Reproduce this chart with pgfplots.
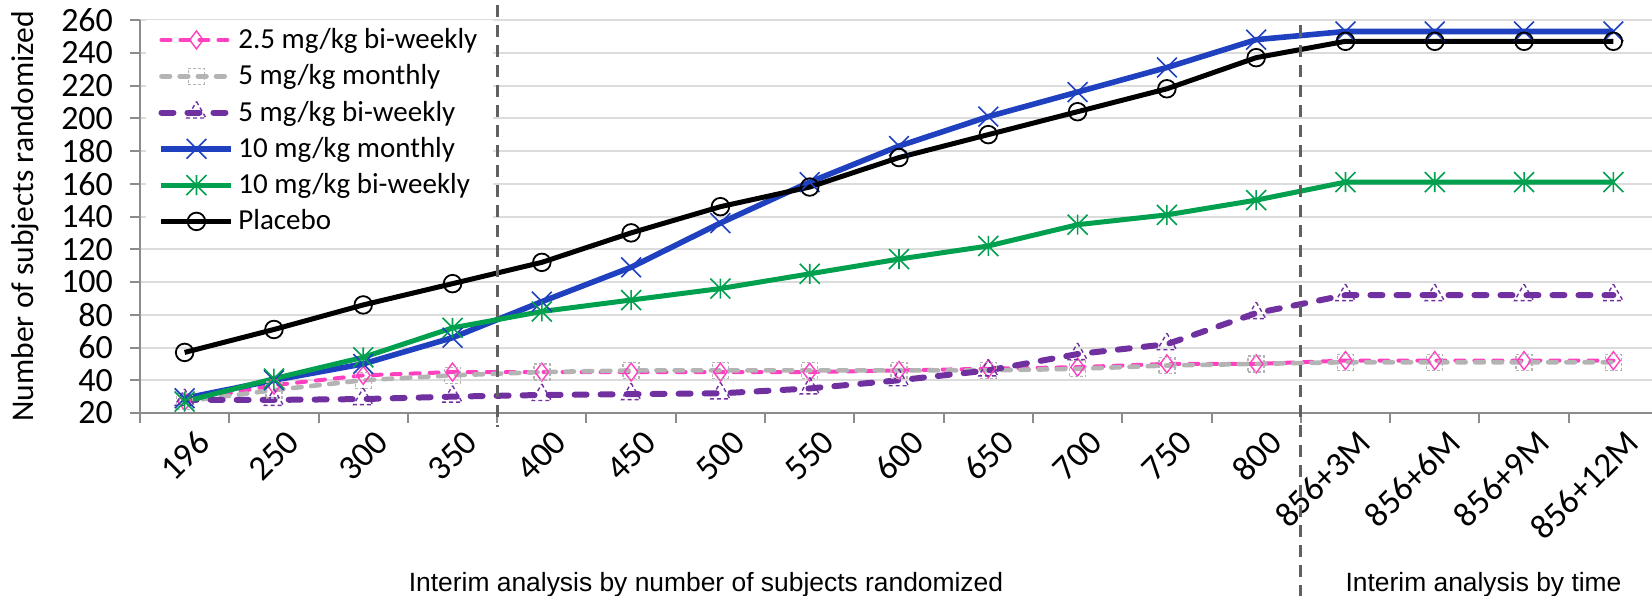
\documentclass[border=0pt]{standalone}
\usepackage{pgfplots}
\pgfplotsset{compat=1.18}
\usepackage{pgfplotstable}
\usepackage{fontspec}
\setmainfont{Carlito}
\newfontfamily\arialfont{Liberation Sans}
\definecolor{cpink}{HTML}{FF40C0}
\definecolor{cgray}{HTML}{B4B4B4}
\definecolor{cpurple}{HTML}{7030A0}
\definecolor{cblue}{HTML}{1F40BF}
\definecolor{cgreen}{HTML}{00A04E}
\definecolor{axisgray}{HTML}{8C8C8C}
\definecolor{gridgray}{HTML}{DCDCDC}
\definecolor{dashgray}{HTML}{606060}
\pgfdeclareplotmark{xstar}{%
  \pgfpathmoveto{\pgfqpoint{-\pgfplotmarksize}{-\pgfplotmarksize}}%
  \pgfpathlineto{\pgfqpoint{\pgfplotmarksize}{\pgfplotmarksize}}%
  \pgfpathmoveto{\pgfqpoint{-\pgfplotmarksize}{\pgfplotmarksize}}%
  \pgfpathlineto{\pgfqpoint{\pgfplotmarksize}{-\pgfplotmarksize}}%
  \pgfpathmoveto{\pgfqpoint{0pt}{-\pgfplotmarksize}}%
  \pgfpathlineto{\pgfqpoint{0pt}{\pgfplotmarksize}}%
  \pgfusepathqstroke}
\pgfplotstableread{
x pink gray purple blue green black
0  27 27 28 29  27 57
1  37 34 28 40  41 71
2  43 40 28.5 50 54 86
3  45 43 30 66  72 99
4  45 45 31 88  82 112
5  45 46 31.5 109 89 130
6  45 46 32 136 96 146
7  45 46 35 161 105 158
8  46 46 40 183 114 176
9  47 46 46 201 122 190
10 48 47 56 216 135 204
11 50 49 62 231 141 218
12 50 50 81 248 150 237
13 52 51 92 253 161 247
14 52 51 92 253 161 247
15 52 51 92 253 161 247
16 52 51 92 253 161 247
}\datatable
\begin{document}
\begin{tikzpicture}
\begin{axis}[
  scale only axis, width=759bp, height=196.5bp,
  xmin=-0.5, xmax=16.5, ymin=20, ymax=260,
  clip=false,
  axis lines*=left,
  axis line style={draw=axisgray, line width=1bp},
  ytick={20,40,...,260},
  xtick={0,...,16},
  xticklabels={196,250,300,350,400,450,500,550,600,650,700,750,800,856+3M,856+6M,856+9M,856+12M},
  minor xtick={-0.5,0.5,...,16.5},
  tick align=outside,
  major tick length=5bp, minor tick length=5bp,
  every tick/.style={draw=axisgray, line width=1bp},
  major x tick style={draw=none},
  ymajorgrids, grid style={draw=gridgray, line width=1bp},
  /pgf/number format/assume math mode=true,
  yticklabel style={font=\fontsize{17bp}{19bp}\selectfont, xshift=-5bp},
  xticklabel style={font=\fontsize{17.5bp}{19bp}\selectfont, rotate=45, anchor=north east, inner sep=0pt, xshift=2bp, yshift=-5.5bp},
  ylabel={Number of subjects randomized},
  ylabel style={font=\fontsize{15.8bp}{19bp}\selectfont, at={(axis description cs:-0.0758,0.5)}, anchor=center},
  legend cell align=left,
  legend image code/.code={\draw[mark repeat=2,mark phase=2,#1] plot coordinates {(0bp,0bp) (17.5bp,0bp) (35bp,0bp)};},
  legend style={at={(axis description cs:0.004,1)}, anchor=north west, draw=none, fill=white,
    font=\fontsize{14.5bp}{17bp}\selectfont, row sep=2.6bp, inner xsep=6bp, inner ysep=2bp,
    /tikz/every even column/.append style={column sep=3.5bp}},
]
\addplot[cpink, line width=2bp, line cap=round, dash pattern=on 4.5bp off 5bp, mark=diamond, mark size=4.5bp,
  mark options={solid, line width=0.7bp, fill=none}] table[x=x,y=pink] {\datatable};
\addlegendentry{2.5 mg/kg bi-weekly}
\addplot[cgray, line width=2.3bp, line cap=round, dash pattern=on 4.3bp off 4.8bp, mark=square, mark size=4bp,
  mark options={dash pattern=on 1.5bp off 1bp, line width=0.7bp, line cap=butt, fill=none}] table[x=x,y=gray] {\datatable};
\addlegendentry{5 mg/kg monthly}
\addplot[cpurple, line width=3bp, line cap=round, dash pattern=on 6bp off 7bp, mark=triangle, mark size=5.5bp,
  mark options={dash pattern=on 2bp off 1.5bp, line width=0.7bp, line cap=butt, fill=none}] table[x=x,y=purple] {\datatable};
\addlegendentry{5 mg/kg bi-weekly}
\addplot[cblue, line width=2.8bp, mark=x, mark size=7bp, mark options={solid, line width=0.8bp}] table[x=x,y=blue] {\datatable};
\addlegendentry{10 mg/kg monthly}
\addplot[cgreen, line width=2.5bp, mark=xstar, mark size=5bp, mark options={solid, line width=0.8bp}] table[x=x,y=green] {\datatable};
\addlegendentry{10 mg/kg bi-weekly}
\addplot[black, line width=2.5bp, mark=o, mark size=4.4bp, mark options={solid, line width=0.9bp, fill=none}] table[x=x,y=black] {\datatable};
\addlegendentry{Placebo}
\coordinate (d1t) at ([yshift=7.5bp]axis cs:3.5,260);
\coordinate (d1b) at ([yshift=-7bp]axis cs:3.5,20);
\coordinate (d2t) at ([yshift=-2.5bp]axis cs:12.5,260);
\coordinate (d2b) at ([yshift=-92bp]axis cs:12.5,20);
\end{axis}
\draw[dashgray, line width=1.5bp, dash pattern=on 6bp off 4bp] (d1t) -- (d1b);
\draw[dashgray, line width=1.5bp, dash pattern=on 6bp off 4bp] (d2t) -- (d2b);
\node[font=\arialfont\fontsize{13.2bp}{15bp}\selectfont, anchor=base] at (283bp,-89bp) {Interim analysis by number of subjects randomized};
\node[font=\arialfont\fontsize{13.2bp}{15bp}\selectfont, anchor=base] at (671.75bp,-89bp) {Interim analysis by time};
\pgfresetboundingbox
\path[use as bounding box] (-70bp,-91.5bp) rectangle (756bp,206.5bp);
\end{tikzpicture}
\end{document}
